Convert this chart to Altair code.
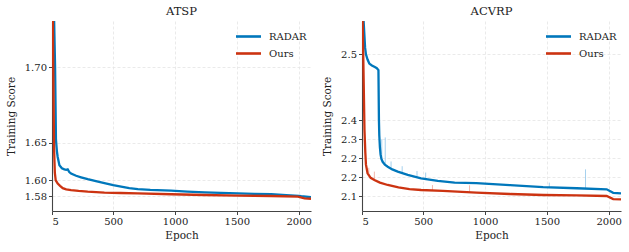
import altair as alt
import pandas as pd

BLUE = "#0077BB"
RED = "#CC3311"
BLUE_LIGHT = "#8fc4e8"
RED_LIGHT = "#eea898"
FONT = "DejaVu Serif"

methods = ["RADAR", "Ours"]

# ---- ATSP training curves (smoothed) ----
atsp_radar_epoch = [5, 30, 37, 45, 51, 65, 85, 105, 120, 132, 145, 159, 200, 240, 294,
                    360, 429, 500, 564, 630, 699, 800, 968, 1100, 1239, 1370, 1509,
                    1640, 1778, 1900, 2000, 2021, 2100]
atsp_radar_score = [1.80, 1.70, 1.652, 1.638, 1.631, 1.620, 1.616, 1.6146, 1.6140, 1.6146,
                    1.611, 1.609, 1.606, 1.604, 1.6015, 1.599, 1.5965, 1.594, 1.592, 1.590,
                    1.5888, 1.5878, 1.5868, 1.5857, 1.5847, 1.584, 1.5834, 1.5828, 1.5822,
                    1.5812, 1.5802, 1.5797, 1.5785]
atsp_ours_epoch = [5, 15, 22, 28, 35, 51, 70, 92, 120, 159, 220, 294, 429, 560, 699,
                   968, 1239, 1509, 1778, 1994, 2048, 2100]
atsp_ours_score = [1.80, 1.70, 1.64, 1.61, 1.600, 1.596, 1.593, 1.590, 1.5885, 1.5876,
                   1.5865, 1.5855, 1.5842, 1.5838, 1.5834, 1.5822, 1.5813, 1.5804, 1.580,
                   1.5791, 1.577, 1.5765]

# ---- ACVRP training curves (smoothed) ----
acvrp_radar_epoch = [5, 18, 30, 37, 50, 64, 85, 105, 125, 138, 142, 145, 150, 155, 162,
                     172, 190, 213, 250, 294, 375, 483, 618, 754, 930, 1200, 1470, 1741,
                     1984, 2037, 2100]
acvrp_radar_score = [2.60, 2.55, 2.51, 2.50, 2.492, 2.486, 2.483, 2.481, 2.479, 2.476,
                     2.40, 2.32, 2.27, 2.245, 2.228, 2.219, 2.210, 2.2035, 2.195, 2.188,
                     2.1775, 2.166, 2.157, 2.150, 2.148, 2.141, 2.133, 2.129, 2.125,
                     2.112, 2.110]
acvrp_ours_epoch = [5, 15, 25, 32, 37, 50, 75, 105, 150, 213, 300, 389, 483, 659, 930,
                    1200, 1470, 1741, 1984, 2037, 2100]
acvrp_ours_score = [2.60, 2.50, 2.35, 2.25, 2.21, 2.1826, 2.168, 2.160, 2.150, 2.1412,
                    2.132, 2.126, 2.1225, 2.119, 2.1124, 2.1075, 2.1037, 2.1026, 2.100,
                    2.0888, 2.0876]

# ---- raw-score spikes visible behind the ACVRP curves ----
acvrp_radar_spike_epoch = [165, 193, 240, 330, 450, 520, 1520, 1813]
acvrp_radar_spike_low = [2.225, 2.21, 2.196, 2.183, 2.170, 2.163, 2.132, 2.128]
acvrp_radar_spike_high = [2.30, 2.31, 2.22, 2.205, 2.19, 2.185, 2.15, 2.195]
acvrp_ours_spike_epoch = [60, 105, 575, 875]
acvrp_ours_spike_low = [2.178, 2.160, 2.121, 2.114]
acvrp_ours_spike_high = [2.20, 2.188, 2.141, 2.140]

x_ticks = [5, 500, 1000, 1500, 2000]
atsp_y_ticks = [1.58, 1.60, 1.65, 1.70]
acvrp_y_ticks = [2.10, 2.17, 2.23, 2.30, 2.40, 2.50]

PLOT_W, PLOT_H = 259, 190

# piecewise-linear score axes
atsp_y_scale = alt.Scale(domain=[1.561, 1.58, 1.60, 1.65, 1.70, 1.731],
                         range=[190, 175, 159.3, 121.7, 46.3, 0], zero=False, nice=False)
acvrp_y_scale = alt.Scale(domain=[2.045, 2.10, 2.17, 2.23, 2.30, 2.40, 2.50, 2.55],
                          range=[190, 175, 156.3, 137.3, 118.3, 99.3, 33.3, 0],
                          zero=False, nice=False)
x_scale = alt.Scale(domain=[5, 2100], nice=False, zero=False)


def curves(radar_e, radar_s, ours_e, ours_s):
    a = pd.DataFrame({"epoch": radar_e, "score": radar_s, "method": "RADAR"})
    b = pd.DataFrame({"epoch": ours_e, "score": ours_s, "method": "Ours"})
    return pd.concat([a, b], ignore_index=True)


def spikes(e, lo, hi, method):
    return pd.DataFrame({"epoch": e, "low": lo, "high": hi, "method": method})


def panel(title, df, y_scale, y_ticks, y_fmt, spike_df=None):
    x_enc = alt.X("epoch:Q", title="Epoch", scale=x_scale,
                  axis=alt.Axis(values=x_ticks, format="d", labelOverlap=False,
                                tickCount=12))
    color = alt.Color("method:N",
                      scale=alt.Scale(domain=methods, range=[BLUE, RED]),
                      sort=methods,
                      legend=alt.Legend(title=None, orient="none", legendX=190, legendY=9,
                                        symbolType="M-2.5,0H2.5", symbolSize=100,
                                        symbolStrokeWidth=2.6, symbolFillColor="transparent",
                                        labelOffset=14, labelFont=FONT, labelFontSize=10,
                                        labelColor="#222", rowPadding=5, padding=0))
    lines = alt.Chart(df).mark_line(strokeWidth=2.3, clip=True).encode(
        x=x_enc,
        y=alt.Y("score:Q", title="Training Score", scale=y_scale,
                axis=alt.Axis(values=y_ticks, format=y_fmt, labelOverlap=False,
                              tickCount=12)),
        color=color,
        order=alt.Order("epoch:Q"),
    )
    layers = []
    if spike_df is not None:
        sp = alt.Chart(spike_df).mark_rule(strokeWidth=1, opacity=0.8, clip=True).encode(
            x=alt.X("epoch:Q", scale=x_scale),
            y=alt.Y("low:Q", scale=y_scale),
            y2="high:Q",
            color=alt.Color("method:N",
                            scale=alt.Scale(domain=methods, range=[BLUE_LIGHT, RED_LIGHT]),
                            legend=None),
        )
        layers.append(sp)
    layers.append(lines)
    return alt.layer(*layers).resolve_scale(color="independent").properties(
        width=PLOT_W, height=PLOT_H,
        title=alt.TitleParams(title, font=FONT, fontSize=11.5, fontWeight="normal",
                              color="#222", offset=4))


atsp = panel("ATSP",
             curves(atsp_radar_epoch, atsp_radar_score, atsp_ours_epoch, atsp_ours_score),
             atsp_y_scale, atsp_y_ticks, ".2f")
acvrp = panel("ACVRP",
              curves(acvrp_radar_epoch, acvrp_radar_score, acvrp_ours_epoch, acvrp_ours_score),
              acvrp_y_scale, acvrp_y_ticks, ".1f",
              spike_df=pd.concat([
                  spikes(acvrp_radar_spike_epoch, acvrp_radar_spike_low,
                         acvrp_radar_spike_high, "RADAR"),
                  spikes(acvrp_ours_spike_epoch, acvrp_ours_spike_low,
                         acvrp_ours_spike_high, "Ours"),
              ], ignore_index=True))

chart = alt.hconcat(atsp, acvrp, spacing=10).resolve_scale(
    color="independent", y="independent"
).resolve_legend(color="independent").properties(
    padding={"left": 6, "top": 5, "right": 6, "bottom": 5}
).configure_view(stroke=None).configure_axis(
    labelFont=FONT, labelFontSize=10, labelColor="#222",
    titleFont=FONT, titleFontSize=10.5, titleFontWeight="normal", titleColor="#222",
    domainColor="#444", domainWidth=1.1, tickColor="#444", tickSize=3.5, tickWidth=1,
    labelPadding=2, titlePadding=6,
    gridColor="#e4e4e4", gridDash=[3, 2], gridWidth=0.8,
).configure_axisY(titlePadding=8).configure_axisX(titlePadding=4)

chart.save("out.html", embed_options={"renderer": "svg", "actions": False})
